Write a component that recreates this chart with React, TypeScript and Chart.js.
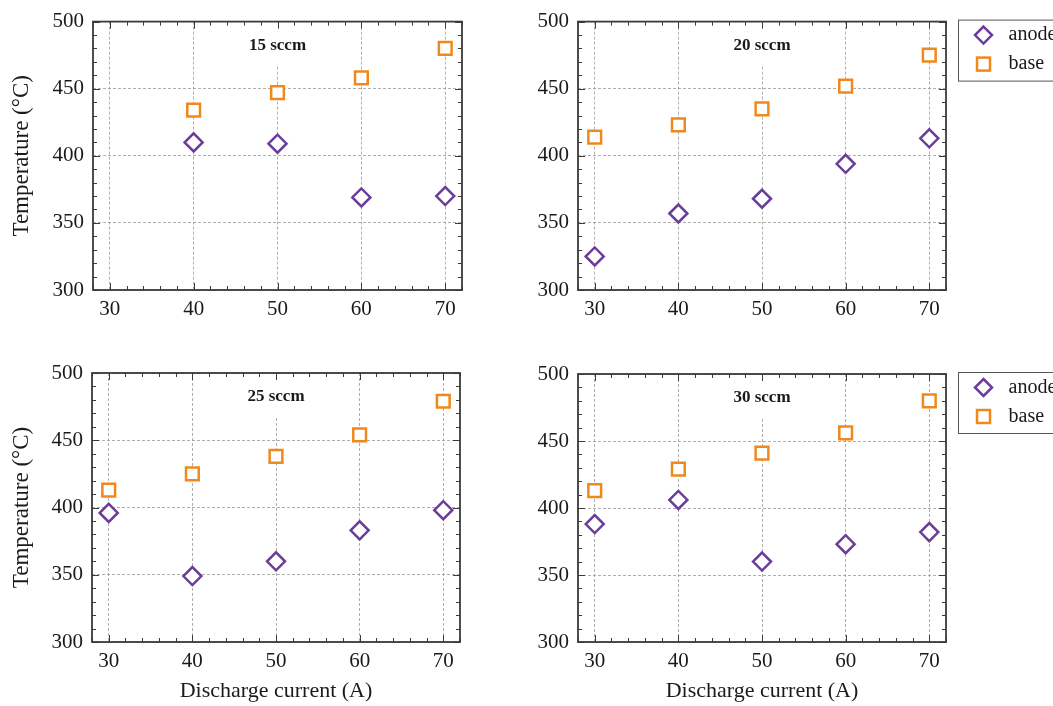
import React, { useEffect, useRef } from 'react';
import { Chart, registerables } from 'chart.js';
Chart.register(...registerables);

const currents = [30, 40, 50, 60, 70];
const flowLabels = ['15 sccm', '20 sccm', '25 sccm', '30 sccm'];
const seriesNames = ['anode', 'base'];
const anode15: (number | null)[] = [null, 410, 409, 369, 370];
const base15: (number | null)[] = [null, 434, 447, 458, 480];
const anode20 = [325, 357, 368, 394, 413];
const base20 = [414, 423, 435, 452, 475];
const anode25 = [396, 349, 360, 383, 398];
const base25 = [413, 425, 438, 454, 479];
const anode30 = [388, 406, 360, 373, 382];
const base30 = [413, 429, 441, 456, 480];
const xTicks = [30, 40, 50, 60, 70];
const yTicks = [300, 350, 400, 450, 500];
const xTitle = 'Discharge current (A)';
const yTitle = 'Temperature (°C)';

const PURPLE = '#6a3d9a';
const ORANGE = '#f0891c';
const FONT = "'Liberation Serif', 'DejaVu Serif', serif";

type Panel = {
  title: string; anode: (number | null)[]; base: (number | null)[];
  left: number; top: number; w: number; h: number;
  yw: number; pt: number; pr: number; xh: number;
  showY: boolean; showX: boolean; legend: boolean;
};

const panels: Panel[] = [
  { title: flowLabels[0], anode: anode15, base: base15, left: 0, top: 0, w: 480, h: 345, yw: 93, pt: 19, pr: 18, xh: 55, showY: true, showX: false, legend: false },
  { title: flowLabels[1], anode: anode20, base: base20, left: 480, top: 0, w: 573, h: 345, yw: 98, pt: 20, pr: 107, xh: 55, showY: false, showX: false, legend: true },
  { title: flowLabels[2], anode: anode25, base: base25, left: 0, top: 345, w: 480, h: 361, yw: 92, pt: 28, pr: 20, xh: 64, showY: true, showX: true, legend: false },
  { title: flowLabels[3], anode: anode30, base: base30, left: 480, top: 345, w: 573, h: 361, yw: 98, pt: 29, pr: 107, xh: 64, showY: false, showX: true, legend: true },
];

function toPoints(vals: (number | null)[]) {
  const out: { x: number; y: number }[] = [];
  currents.forEach((c, i) => { const v = vals[i]; if (v !== null && v !== undefined) out.push({ x: c, y: v }); });
  return out;
}

function diamond(ctx: CanvasRenderingContext2D, x: number, y: number, r: number) {
  ctx.beginPath();
  ctx.moveTo(x, y - r); ctx.lineTo(x + r, y); ctx.lineTo(x, y + r); ctx.lineTo(x - r, y); ctx.closePath();
}

const framePlugin = {
  id: 'frameTicks',
  beforeDatasetsDraw(chart: any, _a: any, opts: any) {
    const { ctx, chartArea, scales } = chart;
    const cx = scales.x.getPixelForValue(50);
    ctx.save();
    ctx.font = `bold 17px ${FONT}`;
    const tw = ctx.measureText(opts.title).width;
    ctx.fillStyle = '#fff';
    ctx.fillRect(cx - tw / 2 - 8, chartArea.top + 1, tw + 16, 42);
    ctx.fillStyle = '#1a1a1a';
    ctx.textAlign = 'center';
    ctx.textBaseline = 'middle';
    ctx.fillText(opts.title, cx, chartArea.top + 24);
    ctx.restore();
  },
  afterDatasetsDraw(chart: any, _a: any, opts: any) {
    const { ctx, chartArea: ca, scales } = chart;
    ctx.save();
    ctx.strokeStyle = '#3a3a3a';
    ctx.lineWidth = 1;
    ctx.beginPath();
    for (let v = 300; v <= 500; v += 10) {
      const y = Math.round(scales.y.getPixelForValue(v)) + 0.5;
      const len = v % 50 === 0 ? 7 : 4;
      ctx.moveTo(ca.left, y); ctx.lineTo(ca.left + len, y);
      ctx.moveTo(ca.right, y); ctx.lineTo(ca.right - len, y);
    }
    for (let v = 28; v <= 72; v += 2) {
      const x = Math.round(scales.x.getPixelForValue(v)) + 0.5;
      const len = v % 10 === 0 ? 7 : 4;
      ctx.moveTo(x, ca.bottom); ctx.lineTo(x, ca.bottom - len);
      ctx.moveTo(x, ca.top); ctx.lineTo(x, ca.top + len);
    }
    ctx.stroke();
    ctx.lineWidth = 1.8;
    ctx.strokeRect(ca.left, ca.top, ca.right - ca.left, ca.bottom - ca.top);

    if (opts.legend) {
      const bx = ca.right + 12.5;
      const by = ca.top - 1.5;
      ctx.lineWidth = 1;
      ctx.strokeStyle = '#555';
      ctx.strokeRect(bx, by, 200, 61);
      const ds = chart.data.datasets;
      ctx.lineWidth = 2.5;
      ctx.strokeStyle = ds[0].borderColor;
      diamond(ctx, bx + 25, by + 15, 8.5);
      ctx.stroke();
      ctx.strokeStyle = ds[1].borderColor;
      ctx.strokeRect(bx + 25 - 6.5, by + 44 - 6.5, 13, 13);
      ctx.fillStyle = '#1a1a1a';
      ctx.font = `20px ${FONT}`;
      ctx.textAlign = 'left';
      ctx.textBaseline = 'middle';
      ctx.fillText(ds[0].label, bx + 50, by + 15);
      ctx.fillText(ds[1].label, bx + 50, by + 44);
    }
    ctx.restore();
  },
};

function PanelChart({ p }: { p: Panel }) {
  const ref = useRef<HTMLCanvasElement>(null);
  useEffect(() => {
    if (!ref.current) return;
    const tickFont = { family: FONT, size: 21 };
    const chart = new Chart(ref.current, {
      type: 'scatter',
      data: {
        datasets: [
          { label: seriesNames[0], data: toPoints(p.anode), pointStyle: 'rectRot', pointRadius: 9, borderColor: PURPLE, backgroundColor: '#ffffff', borderWidth: 2.5 },
          { label: seriesNames[1], data: toPoints(p.base), pointStyle: 'rect', pointRadius: 9, borderColor: ORANGE, backgroundColor: '#ffffff', borderWidth: 2.5 },
        ],
      },
      options: {
        animation: false,
        responsive: false,
        maintainAspectRatio: false,
        layout: { padding: { top: p.pt, right: p.pr, left: 0, bottom: 0 } },
        plugins: {
          legend: { display: false },
          tooltip: { enabled: false },
          frameTicks: { title: p.title, legend: p.legend },
        } as any,
        scales: {
          x: {
            type: 'linear', min: 28, max: 72,
            afterBuildTicks: (s: any) => { s.ticks = xTicks.map((v) => ({ value: v })); },
            afterFit: (s: any) => { s.height = p.xh; },
            grid: { color: '#9a9a9a', lineWidth: 0.8, drawTicks: false },
            border: { display: false, dash: [3, 2] },
            ticks: { padding: 7, color: '#1a1a1a', font: tickFont, maxRotation: 0 },
            title: { display: p.showX, text: xTitle, color: '#1a1a1a', font: { family: FONT, size: 22 }, padding: { top: 0, bottom: 2 } },
          },
          y: {
            type: 'linear', min: 300, max: 500,
            afterBuildTicks: (s: any) => { s.ticks = yTicks.map((v) => ({ value: v })); },
            afterFit: (s: any) => { s.width = p.yw; },
            grid: { color: '#9a9a9a', lineWidth: 0.8, drawTicks: false },
            border: { display: false, dash: [3, 2] },
            ticks: { padding: 9, color: '#1a1a1a', font: tickFont },
            title: { display: p.showY, text: yTitle, color: '#1a1a1a', font: { family: FONT, size: 23 }, padding: { top: 8, bottom: 0 } },
          },
        },
      },
      plugins: [framePlugin],
    } as any);
    return () => chart.destroy();
  }, [p]);
  return (
    <div style={{ position: 'absolute', left: p.left, top: p.top, width: p.w, height: p.h }}>
      <canvas ref={ref} width={p.w} height={p.h} style={{ width: p.w, height: p.h, display: 'block' }} />
    </div>
  );
}

export default function App() {
  return (
    <div style={{ position: 'absolute', left: 0, top: 0, width: 1053, height: 706, background: '#fff', overflow: 'hidden' }}>
      {panels.map((p, i) => <PanelChart key={i} p={p} />)}
    </div>
  );
}
